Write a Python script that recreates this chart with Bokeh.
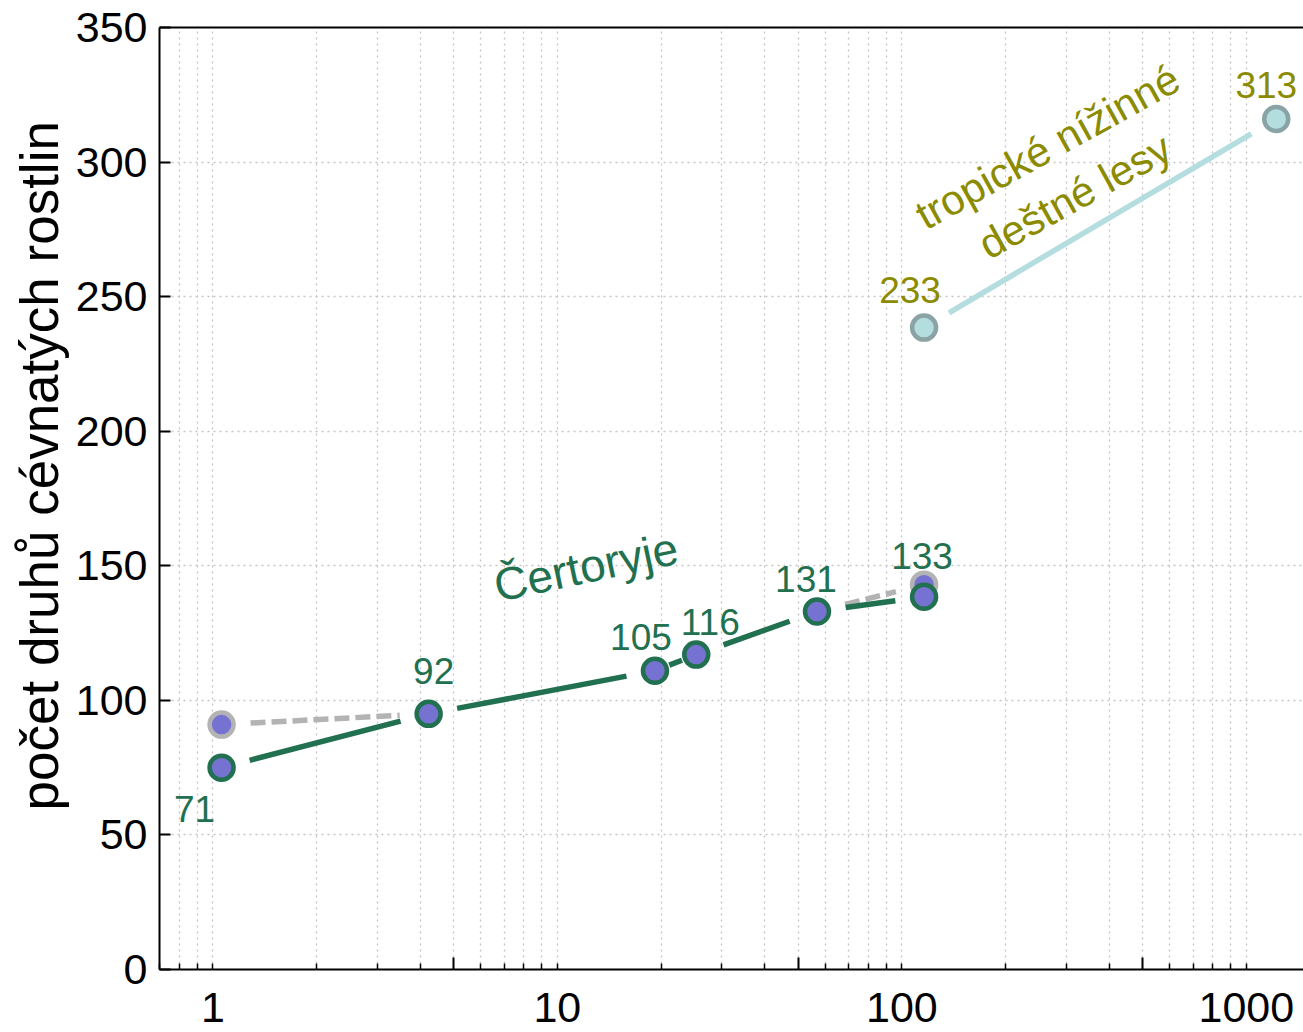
import math
from bokeh.plotting import figure
from bokeh.models import (LogAxis, LinearAxis, FixedTicker, Range1d, Label, ColumnDataSource,
                          LogScale, Grid, CustomJSTickFormatter, Title)
from bokeh.core.properties import value
from bokeh.embed import file_html
from bokeh.resources import INLINE

# ---------------- data ----------------
area_cert = [1.06, 4.23, 19.2, 25.3, 56.7, 116]
species_cert = [75, 95, 111, 117, 133, 138.5]
labels_cert = ["71", "92", "105", "116", "131", "133"]

area_alt = [1.06, 116]
species_alt = [91, 143]

area_trop = [116, 1221]
species_trop = [238.5, 316]
labels_trop = ["233", "313"]

y_ticks = [0, 50, 100, 150, 200, 250, 300, 350]
x_label_ticks = [1, 10, 100, 1000]
x_long_ticks = [5, 50, 500]
x_minor_ticks = [m * 10 ** e for e in range(-1, 4) for m in range(1, 10)
                 if 0.7 <= m * 10 ** e <= 1500 and m != 5]

y_title = "počet druhů cévnatých rostlin"

# ---------------- style ----------------
GREEN = "#21704f"
PURPLE = "#7672d2"
GRAY = "#b3b3b3"
TEAL = "#b4dde0"
TEAL_EDGE = "#8aa3a5"
OLIVE = "#8b8b00"
FONT = "Liberation Sans"

X0, X1 = 0.7, 1465
Y0, Y1 = 0, 350
FRAME_W, FRAME_H = 1144, 943
GAP = 29

kx = FRAME_W / (math.log10(X1) - math.log10(X0))
ky = FRAME_H / (Y1 - Y0)


def gapped(xa, ya, xb, yb, gap=GAP):
    sxa, sya = math.log10(xa) * kx, ya * ky
    sxb, syb = math.log10(xb) * kx, yb * ky
    d = math.hypot(sxb - sxa, syb - sya)
    ux, uy = (sxb - sxa) / d, (syb - sya) / d
    a = (sxa + ux * gap, sya + uy * gap)
    b = (sxb - ux * gap, syb - uy * gap)
    return (10 ** (a[0] / kx), a[1] / ky, 10 ** (b[0] / kx), b[1] / ky)


def segs(pairs):
    out = {"x0": [], "y0": [], "x1": [], "y1": []}
    for (xa, ya, xb, yb) in pairs:
        s = gapped(xa, ya, xb, yb)
        for k, v in zip(("x0", "y0", "x1", "y1"), s):
            out[k].append(v)
    return out


p = figure(width=1303, height=1032, x_axis_type=None, y_axis_type=None,
           x_range=Range1d(X0, X1), y_range=Range1d(Y0, Y1),
           output_backend="svg", toolbar_location=None,
           min_border_top=27, min_border_right=0, min_border_left=159,
           min_border_bottom=63)
p.x_scale = LogScale()
p.outline_line_color = None
p.background_fill_color = "white"
p.border_fill_color = "white"

# bottom axis: ticks only
ax_ticks = LogAxis(ticker=FixedTicker(ticks=x_long_ticks, minor_ticks=x_minor_ticks),
                   major_tick_in=12, major_tick_out=0, minor_tick_in=6, minor_tick_out=0,
                   major_tick_line_width=2, minor_tick_line_width=1.5,
                   major_tick_line_color="black", minor_tick_line_color="black",
                   axis_line_color="black", axis_line_width=2,
                   major_label_text_color=None, major_label_text_font_size="1px",
                   major_label_standoff=0)
p.add_layout(ax_ticks, "below")
# bottom axis: labels only
ax_labels = LogAxis(ticker=FixedTicker(ticks=x_label_ticks, minor_ticks=[]),
                    major_tick_line_color=None, minor_tick_line_color=None,
                    axis_line_color=None, major_label_standoff=17,
                    major_label_text_font=FONT, major_label_text_font_size="43px",
                    major_label_text_color="black",
                    formatter=CustomJSTickFormatter(code="return tick.toFixed(0);"))
p.add_layout(ax_labels, "below")
# top line
ax_top = LogAxis(ticker=FixedTicker(ticks=[], minor_ticks=[]), axis_line_width=2,
                 axis_line_color="black", major_tick_line_color=None,
                 minor_tick_line_color=None, major_label_text_color=None,
                 major_label_text_font_size="1px", major_label_standoff=0)
p.add_layout(ax_top, "above")
# left axis
ay = LinearAxis(ticker=FixedTicker(ticks=y_ticks, minor_ticks=[]),
                major_tick_in=11, major_tick_out=0, major_tick_line_width=2,
                major_tick_line_color="black", axis_line_color="black", axis_line_width=2,
                major_label_standoff=12, major_label_text_font=FONT,
                major_label_text_font_size="43px", major_label_text_color="black")
p.add_layout(ay, "left")
# y axis title as a left-side title (lets it sit above the frame centre as in the reference)
p.add_layout(Title(text=y_title, align="left", offset=159, standoff=4,
                   vertical_align="top",
                   text_font=FONT, text_font_size="53px", text_font_style="normal",
                   text_color="black"), "left")

gx = Grid(dimension=0, ticker=ax_ticks.ticker, grid_line_color="#c4c4c4",
          grid_line_dash="2 4", grid_line_width=1.3,
          minor_grid_line_color="#c4c4c4", minor_grid_line_dash="2 4",
          minor_grid_line_width=1.3)
gy = Grid(dimension=1, ticker=ay.ticker, grid_line_color="#c4c4c4",
          grid_line_dash="2 4", grid_line_width=1.3)
p.add_layout(gx, "center")
p.add_layout(gy, "center")

# gray dashed connectors
dash_pairs = [(area_alt[0], species_alt[0], area_cert[1], species_cert[1]),
              (area_cert[4], species_cert[4], area_alt[1], species_alt[1])]
p.segment(x0="x0", y0="y0", x1="x1", y1="y1", source=ColumnDataSource(segs(dash_pairs)),
          line_color=GRAY, line_width=5.5, line_dash="15 6")

# green line
cert_pairs = [(area_cert[i], species_cert[i], area_cert[i + 1], species_cert[i + 1])
              for i in range(len(area_cert) - 1)]
p.segment(x0="x0", y0="y0", x1="x1", y1="y1", source=ColumnDataSource(segs(cert_pairs)),
          line_color=GREEN, line_width=5.5)
# teal line
trop_pairs = [(area_trop[0], species_trop[0], area_trop[1], species_trop[1])]
p.segment(x0="x0", y0="y0", x1="x1", y1="y1", source=ColumnDataSource(segs(trop_pairs)),
          line_color=TEAL, line_width=5.5)

# markers
p.scatter(area_alt, species_alt, size=24, fill_color=PURPLE, line_color=GRAY, line_width=4.5)
p.scatter(area_cert, species_cert, size=24, fill_color=PURPLE, line_color=GREEN, line_width=4.5)
p.scatter(area_trop, species_trop, size=24, fill_color=TEAL, line_color=TEAL_EDGE, line_width=4.5)

# value labels
cert_dx = [-27, 5, -14, 14, -11, -2]
cert_dy = [41, -43, -34, -33, -33, -41]
p.text(x="x", y="y", text="t", x_offset="dx", y_offset="dy",
       source=ColumnDataSource(dict(x=area_cert, y=species_cert, t=labels_cert,
                                    dx=cert_dx, dy=cert_dy)),
       text_font=value(FONT), text_font_size="37px", text_color=GREEN,
       text_align="center", text_baseline="middle")
trop_dx = [-14, -10]
trop_dy = [-38, -34]
p.text(x="x", y="y", text="t", x_offset="dx", y_offset="dy",
       source=ColumnDataSource(dict(x=area_trop, y=species_trop, t=labels_trop,
                                    dx=trop_dx, dy=trop_dy)),
       text_font=value(FONT), text_font_size="37px", text_color=OLIVE,
       text_align="center", text_baseline="middle")

p.add_layout(Label(x=12.1, y=149.6, text="Čertoryje", angle=12, angle_units="deg",
                   text_font=FONT, text_font_size="46px", text_color=GREEN,
                   text_align="center", text_baseline="middle"))
p.add_layout(Label(x=290, y=296.5, text="tropické nížinné\ndeštné lesy", angle=29,
                   angle_units="deg", text_font=FONT, text_font_size="42px",
                   text_color=OLIVE, text_align="center", text_baseline="middle",
                   text_line_height=1.2))

open("out.html", "w").write(file_html(p, INLINE))
